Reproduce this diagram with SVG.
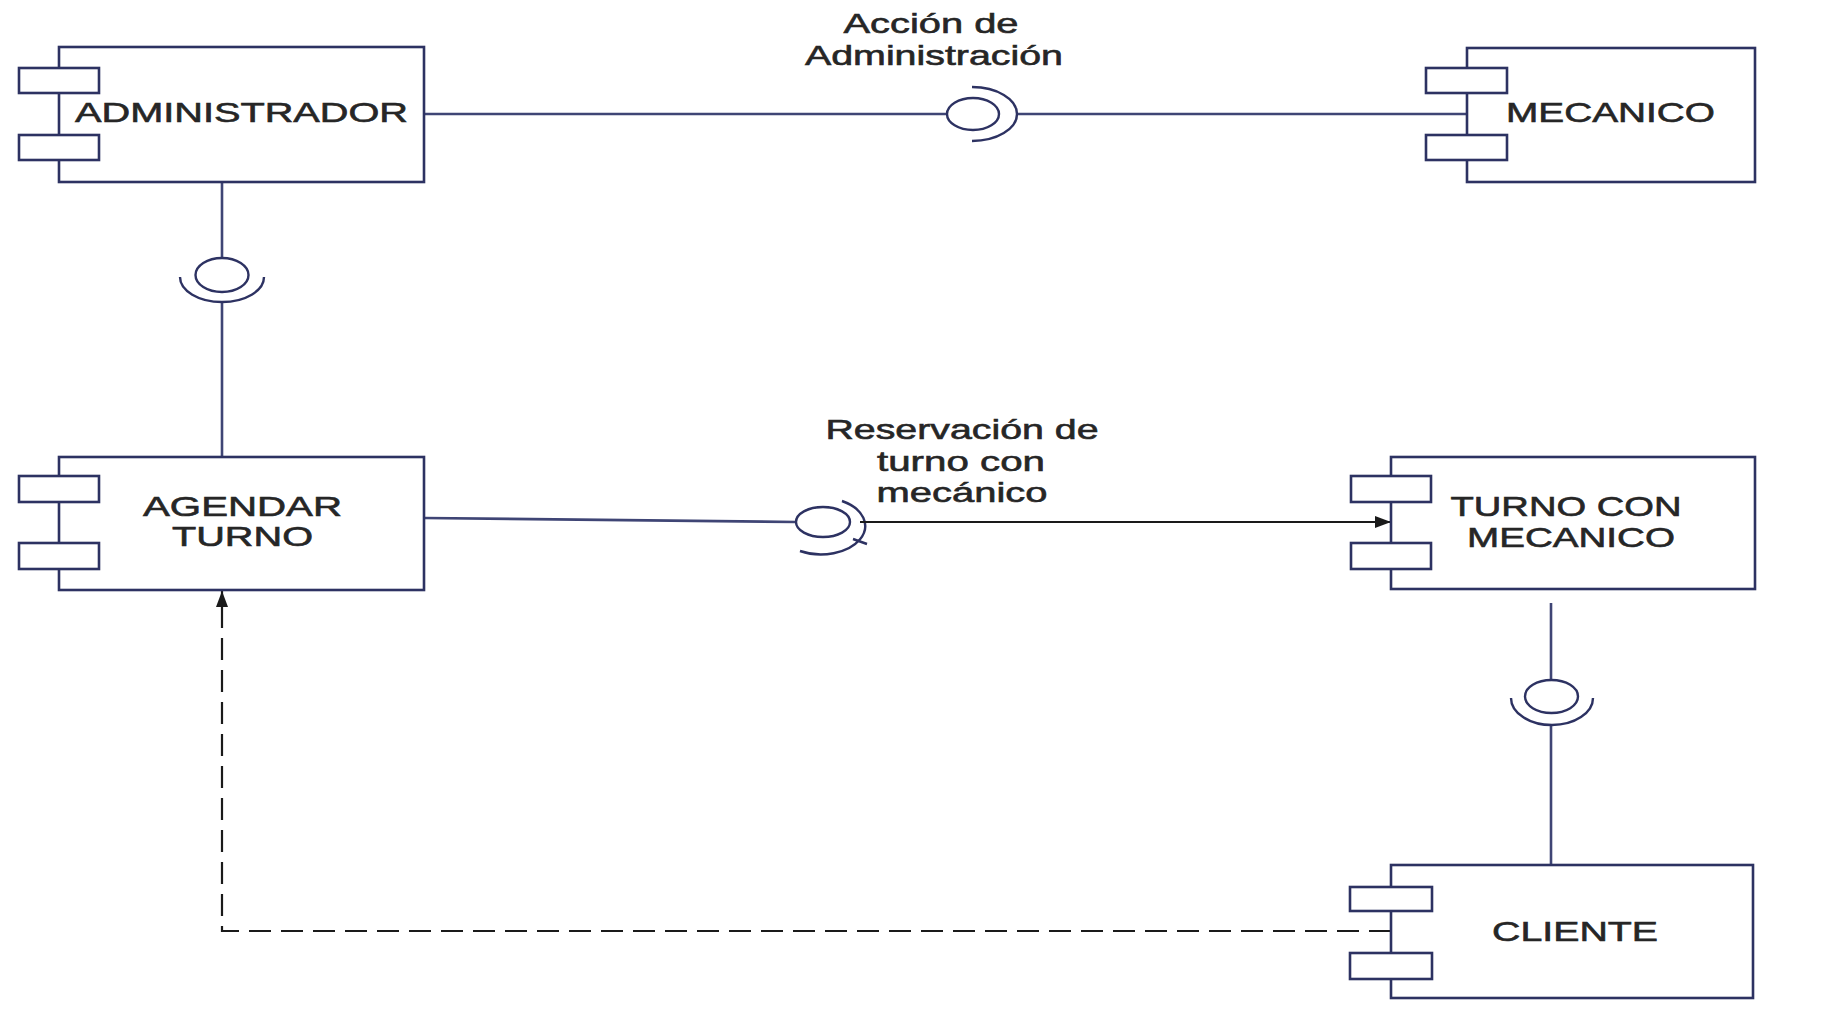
<svg xmlns="http://www.w3.org/2000/svg" width="1846" height="1019" viewBox="0 0 1846 1019">
  <defs>
    <style>
      .body { fill: #ffffff; stroke: #2d3262; stroke-width: 2.6; }
      .port { fill: #ffffff; stroke: #2d3262; stroke-width: 2.6; }
      .wire { fill: none; stroke: #3f4575; stroke-width: 2.6; }
      .ball { fill: #ffffff; stroke: #2d3262; stroke-width: 2.4; }
      .socket { fill: none; stroke: #2d3262; stroke-width: 2.4; }
      .flow { fill: none; stroke: #1a1a1a; stroke-width: 2; }
      .dep { fill: none; stroke: #1a1a1a; stroke-width: 2.2; stroke-dasharray: 22 10; }
      .label { font-family: "Liberation Sans", Arial, sans-serif; font-size: 28px; fill: #262626; stroke: #262626; stroke-width: 0.6; text-anchor: middle; }
    </style>
    <marker id="head" viewBox="0 0 16 12" refX="16" refY="6" markerWidth="16" markerHeight="12" markerUnits="userSpaceOnUse" orient="auto">
      <path d="M0,0 L16,6 L0,12 Z" fill="#1a1a1a"/>
    </marker>
  </defs>

  <rect width="1846" height="1019" fill="#ffffff"/>

  <!-- connectors -->
  <g id="connectors">
    <!-- ADMINISTRADOR to MECANICO through provided interface -->
    <line class="wire" x1="424" y1="114" x2="947" y2="114"/>
    <line class="wire" x1="1017" y1="114" x2="1467" y2="114"/>
    <ellipse class="ball" cx="973" cy="114" rx="26" ry="16"/>
    <path class="socket" d="M972,87 A45,27 0 0 1 972,141"/>

    <!-- ADMINISTRADOR to AGENDAR TURNO -->
    <line class="wire" x1="222" y1="182" x2="222" y2="258"/>
    <line class="wire" x1="222" y1="302" x2="222" y2="457"/>
    <ellipse class="ball" cx="222" cy="275" rx="26.5" ry="17"/>
    <path class="socket" d="M180,277 A42,25 0 0 0 264,277"/>

    <!-- AGENDAR TURNO to TURNO CON MECANICO -->
    <line class="wire" x1="424" y1="518" x2="796" y2="522"/>
    <ellipse class="ball" cx="823" cy="522" rx="27" ry="15"/>
    <path class="socket" d="M842,501 A42,27 0 0 1 800,551"/>
    <line class="socket" x1="853" y1="539" x2="867" y2="544"/>
    <line class="flow" x1="860" y1="522" x2="1391" y2="522" marker-end="url(#head)"/>

    <!-- TURNO CON MECANICO to CLIENTE -->
    <line class="wire" x1="1551" y1="603" x2="1551" y2="680"/>
    <line class="wire" x1="1551" y1="725" x2="1551" y2="865"/>
    <ellipse class="ball" cx="1551.5" cy="696.5" rx="26.5" ry="16.5"/>
    <path class="socket" d="M1511,698 A41,27 0 0 0 1593,698"/>

    <!-- CLIENTE depends on AGENDAR TURNO -->
    <path class="dep" d="M1391,931 L222,931 L222,591" marker-end="url(#head)"/>
  </g>

  <!-- interface labels -->
  <g id="label-admin">
    <text class="label" x="931" y="33" textLength="175" lengthAdjust="spacingAndGlyphs">Acción de</text>
    <text class="label" x="934" y="65" textLength="258" lengthAdjust="spacingAndGlyphs">Administración</text>
  </g>
  <g id="label-reserva">
    <text class="label" x="962" y="439" textLength="273" lengthAdjust="spacingAndGlyphs">Reservación de</text>
    <text class="label" x="961" y="471" textLength="168" lengthAdjust="spacingAndGlyphs">turno con</text>
    <text class="label" x="962" y="502" textLength="171" lengthAdjust="spacingAndGlyphs">mecánico</text>
  </g>

  <!-- components -->
  <g id="administrador">
    <rect class="body" x="59" y="47" width="365" height="135"/>
    <rect class="port" x="19" y="68" width="80" height="25"/>
    <rect class="port" x="19" y="135" width="80" height="25"/>
    <text class="label" x="241.5" y="122" textLength="333" lengthAdjust="spacingAndGlyphs">ADMINISTRADOR</text>
  </g>

  <g id="mecanico">
    <rect class="body" x="1467" y="48" width="288" height="134"/>
    <rect class="port" x="1426" y="68" width="81" height="25"/>
    <rect class="port" x="1426" y="135" width="81" height="25"/>
    <text class="label" x="1610.5" y="122" textLength="209" lengthAdjust="spacingAndGlyphs">MECANICO</text>
  </g>

  <g id="agendar-turno">
    <rect class="body" x="59" y="457" width="365" height="133"/>
    <rect class="port" x="19" y="476" width="80" height="26"/>
    <rect class="port" x="19" y="543" width="80" height="26"/>
    <text class="label" x="242.5" y="516" textLength="199" lengthAdjust="spacingAndGlyphs">AGENDAR</text>
    <text class="label" x="242.5" y="546" textLength="141" lengthAdjust="spacingAndGlyphs">TURNO</text>
  </g>

  <g id="turno-con-mecanico">
    <rect class="body" x="1391" y="457" width="364" height="132"/>
    <rect class="port" x="1351" y="476" width="80" height="26"/>
    <rect class="port" x="1351" y="543" width="80" height="26"/>
    <text class="label" x="1566" y="516" textLength="231" lengthAdjust="spacingAndGlyphs">TURNO CON</text>
    <text class="label" x="1571" y="547" textLength="208" lengthAdjust="spacingAndGlyphs">MECANICO</text>
  </g>

  <g id="cliente">
    <rect class="body" x="1391" y="865" width="362" height="133"/>
    <rect class="port" x="1350" y="887" width="82" height="24"/>
    <rect class="port" x="1350" y="953" width="82" height="26"/>
    <text class="label" x="1575" y="941" textLength="166" lengthAdjust="spacingAndGlyphs">CLIENTE</text>
  </g>
</svg>
